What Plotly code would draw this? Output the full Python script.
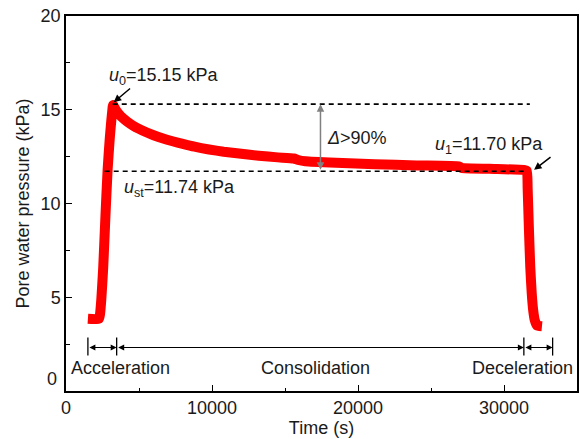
import plotly.graph_objects as go

# ---- data ----
time_s = [1500, 2250, 2330, 2420, 2550, 2700, 2850, 3000, 3100, 3170, 3220,
          3300, 3450, 3650, 3900, 4200, 4600, 5000, 5500, 6000, 6600, 7300, 8000,
          8800, 9800, 10800, 12000, 13200, 14500, 15600, 15900, 16400, 18500,
          21150, 24000, 26900, 27100, 29000, 31360, 31560, 31620, 31700, 31800,
          31900, 32000, 32100, 32250, 32600]
pressure_kpa = [3.85, 3.85, 4.1, 4.9, 6.6, 9.3, 11.8, 13.5, 14.4, 14.95, 15.25,
                15.15, 14.95, 14.75, 14.55, 14.36, 14.15, 13.98, 13.8, 13.64, 13.48, 13.32, 13.18,
                13.03, 12.88, 12.76, 12.65, 12.55, 12.46, 12.4, 12.32, 12.25, 12.17,
                12.1, 12.03, 11.98, 11.9, 11.85, 11.79, 11.75, 10.8, 8.8, 6.6,
                5.2, 4.3, 3.8, 3.5, 3.45]

peak_level = 15.3
steady_level = 11.72
peak_line_t = [3200, 31770]
steady_line_t = [2650, 31560]

u0_text = "<i>u</i><sub>0</sub>=15.15 kPa"
ust_text = "<i>u</i><sub>st</sub>=11.74 kPa"
u1_text = "<i>u</i><sub>1</sub>=11.70 kPa"
delta_text = "<i>Δ</i>>90%"

phase_bounds = [1500, 3470, 31360, 33330]
phase_names = ["Acceleration", "Consolidation", "Deceleration"]
phase_label_t = [3740, 17090, 31250]
phase_arrow_y = 2.32
phase_label_y = 1.25

x_ticks = [0, 10000, 20000, 30000]
y_ticks = [5, 10, 15, 20]

FONT = "Arial, Liberation Sans, sans-serif"
FS = 18

fig = go.Figure()
fig.add_trace(go.Scatter(x=time_s, y=pressure_kpa, mode="lines",
                         line=dict(color="#ff0000", width=10, shape="spline", smoothing=0.5),
                         showlegend=False))
fig.add_trace(go.Scatter(x=peak_line_t, y=[peak_level, peak_level], mode="lines",
                         line=dict(color="black", width=1.6, dash="5px,4px"), showlegend=False))
fig.add_trace(go.Scatter(x=steady_line_t, y=[steady_level, steady_level], mode="lines",
                         line=dict(color="black", width=1.6, dash="5px,4px"), showlegend=False))

ann = []
def txt(x, y, t, xa="left"):
    ann.append(dict(x=x, y=y, xref="x", yref="y", text=t, showarrow=False,
                    xanchor=xa, yanchor="middle", font=dict(size=FS, color="#1a1a1a", family=FONT)))

txt(2790, 16.78, u0_text)
txt(3810, 10.8, ust_text)
txt(25120, 13.07, u1_text)
txt(17770, 13.5, delta_text)
for name, t in zip(phase_names, phase_label_t):
    txt(t, phase_label_y, name, "center")

def arrow(x0, y0, x1, y1, color="black", side="end", width=1.3, size=1.0):
    ann.append(dict(x=x1, y=y1, ax=x0, ay=y0, xref="x", yref="y", axref="x", ayref="y",
                    text="", showarrow=True, arrowhead=2, arrowsize=size, arrowwidth=width,
                    arrowcolor=color, arrowside=side, startarrowhead=2, startarrowsize=size))

arrow(4490, 16.2, 3270, 15.4, width=1.5)
arrow(33290, 12.54, 32060, 11.8, width=1.5)
arrow(17430, steady_level, 17430, peak_level, color="#808080", side="end+start", width=1.5)
for a, b in zip(phase_bounds[:-1], phase_bounds[1:]):
    arrow(a, phase_arrow_y, b, phase_arrow_y, side="end+start", width=1.2)

shapes = []
for t in phase_bounds:
    shapes.append(dict(type="line", xref="x", yref="y", x0=t, x1=t, y0=1.89, y1=2.85,
                       line=dict(color="black", width=1.3)))

# y "0" label raised, as in the reference
ann.append(dict(x=0, y=0.62, xref="paper", yref="y", text="0", showarrow=False,
                xanchor="right", yanchor="middle", xshift=-7,
                font=dict(size=FS, color="#1a1a1a", family=FONT)))

fig.update_layout(
    width=580, height=439,
    margin=dict(l=66, r=1, t=16, b=48),
    paper_bgcolor="white", plot_bgcolor="white",
    font=dict(family=FONT, size=FS, color="#1a1a1a"),
    annotations=ann, shapes=shapes,
    xaxis=dict(range=[0, 35000], tickvals=x_ticks, ticktext=[str(v) for v in x_ticks],
               ticks="inside", ticklen=6, tickwidth=1.2, tickcolor="black",
               minor=dict(ticks="inside", dtick=5000, ticklen=3, tickcolor="black"),
               showline=True, linecolor="black", linewidth=1.5, mirror=True,
               showgrid=False, zeroline=False,
               title=dict(text="Time (s)", standoff=2, font=dict(size=FS))),
    yaxis=dict(range=[0, 20], tickvals=y_ticks, ticktext=[str(v) for v in y_ticks],
               ticks="inside", ticklen=6, tickwidth=1.2, tickcolor="black",
               minor=dict(ticks="inside", dtick=2.5, ticklen=4, tickcolor="black"),
               showline=True, linecolor="black", linewidth=1.5, mirror=True,
               showgrid=False, zeroline=False,
               title=dict(text="Pore water pressure (kPa)", standoff=6, font=dict(size=FS))),
)

fig.write_html("out.html")
